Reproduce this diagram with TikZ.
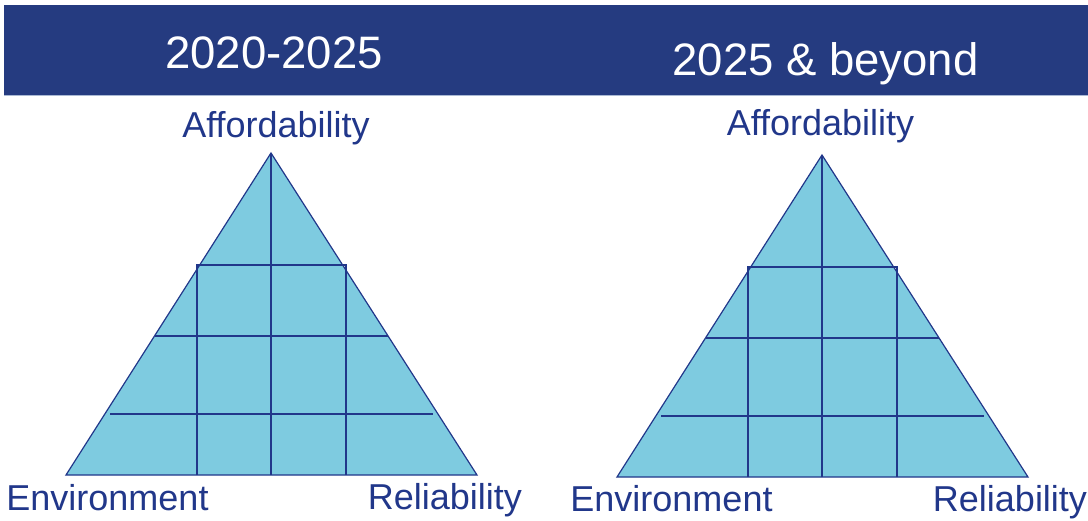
\documentclass[tikz,border=0pt]{standalone}
\usepackage{fontspec}
\setmainfont{Liberation Sans}
\usetikzlibrary{positioning}
\definecolor{bannerNavy}{RGB}{37,59,128}
\definecolor{gridNavy}{RGB}{33,55,138}
\definecolor{pyramidBlue}{RGB}{126,203,224}
\definecolor{ruleGray}{RGB}{170,185,212}
\tikzset{
  banner/.style={fill=bannerNavy, draw=none},
  heading/.style={text=white, inner sep=0pt, anchor=base,
    font=\fontsize{22.75}{27}\selectfont},
  corner/.style={text=gridNavy, inner sep=0pt, anchor=base,
    font=\fontsize{18}{22}\selectfont},
  pyramid/.style={fill=pyramidBlue, draw=gridNavy, line width=0.6pt},
  gridline/.style={draw=gridNavy, line width=0.85pt}
}

\begin{document}
\begin{tikzpicture}[x=0.5pt,y=-0.5pt]
    \useasboundingbox (0,0) rectangle (1088,520);
    \fill[banner] (4,5) rectangle (1088,95);
    \draw[ruleGray, line width=0.5pt] (4,95.5) -- (1088,95.5);
    \node[heading] (yearsnow) at (274,68) {2020-2025};
    \node[heading] (yearslater) at (825.5,75) {2025 \& beyond};
    % both pyramids share one grid, the second is shifted right
    \foreach \dx/\dy/\side in {0/0/L, 551/2/R} {
      \begin{scope}[shift={(\dx,\dy)}]
        \coordinate (apex\side) at (271,153);
        \coordinate (left\side) at (66,475);
        \coordinate (right\side) at (477,475);
        \draw[pyramid] (apex\side) -- (right\side) -- (left\side) -- cycle;
        \draw[gridline] (apex\side) -- (271,475);
        \draw[gridline] (197,475) -- (197,265) -- (346,265) -- (346,475);
        \draw[gridline] (155,336) -- (388,336);
        \draw[gridline] (110,414) -- (433,414);
      \end{scope}
    }
    \node[corner] (affL) at (276,137) {Affordability};
    \node[corner] (envL) at (107.5,510) {Environment};
    \node[corner] (relL) at (445,509.5) {Reliability};
    \node[corner] (affR) at (820.5,135) {Affordability};
    \node[corner] (envR) at (671.5,511) {Environment};
    \node[corner] (relR) at (1010,511) {Reliability};
  \end{tikzpicture}
\end{document}
